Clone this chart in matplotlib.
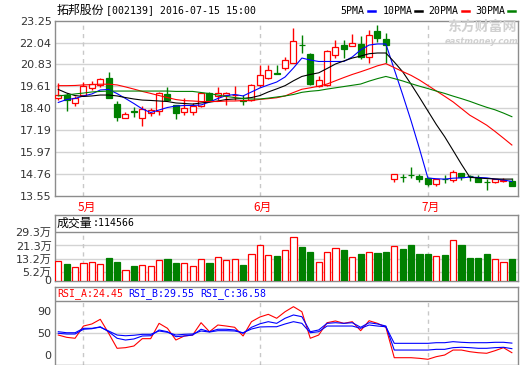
import matplotlib
matplotlib.use('Agg')
import matplotlib.pyplot as plt
from matplotlib.lines import Line2D
from matplotlib.transforms import blended_transform_factory

plt.rcParams['font.family'] = ['DejaVu Sans', 'Noto Sans CJK SC']

# ---- data (2016-04-27 .. 2016-07-15) ----
opens = [18.98, 19.13, 18.71, 19.13, 19.50, 19.69, 20.06, 18.64, 17.84, 18.24,
         17.83, 18.15, 18.22, 19.20, 18.55, 18.20, 18.17, 18.54, 19.23, 19.06,
         19.15, 19.12, 18.85, 18.85, 19.68, 20.06, 20.36, 20.61, 20.90, 21.93,
         21.40, 19.65, 19.70, 21.35, 21.90, 21.86, 21.97, 21.26, 22.70, 22.25,
         14.47, 14.60, 14.70, 14.66, 14.52, 14.20, 14.50, 14.42, 14.80, 14.66,
         14.55, 14.32, 14.33, 14.34, 14.38]
highs = [19.78, 19.23, 19.08, 19.87, 19.92, 20.05, 20.42, 18.82, 18.21, 18.45,
         18.52, 18.40, 19.30, 19.60, 18.58, 18.96, 18.67, 19.30, 19.30, 19.60,
         19.30, 19.63, 19.15, 19.75, 20.80, 20.80, 20.80, 21.25, 22.86, 22.45,
         21.45, 20.20, 21.62, 22.20, 22.20, 22.50, 22.40, 22.76, 23.00, 22.55,
         14.75, 14.75, 15.16, 14.73, 14.55, 14.50, 14.70, 14.97, 14.80, 14.67,
         14.67, 14.48, 14.50, 14.55, 14.55]
lows = [18.87, 18.26, 18.52, 19.08, 19.40, 19.56, 18.95, 17.71, 17.84, 17.93,
        17.41, 17.95, 18.00, 18.78, 17.80, 18.00, 18.00, 18.45, 18.78, 18.85,
        18.58, 18.85, 18.60, 18.82, 19.60, 20.00, 20.27, 20.52, 20.90, 21.44,
        19.70, 19.55, 19.65, 21.20, 21.20, 21.86, 21.15, 20.90, 22.09, 20.88,
        14.33, 14.33, 14.55, 14.30, 14.10, 14.10, 14.24, 14.33, 14.42, 14.37,
        14.33, 13.87, 14.26, 14.30, 14.10]
closes = [19.13, 18.85, 18.95, 19.63, 19.73, 20.00, 18.95, 17.89, 18.08, 18.20,
          18.34, 18.29, 19.23, 18.85, 18.12, 18.40, 18.52, 19.27, 18.82, 19.27,
          19.25, 19.14, 18.80, 19.68, 20.24, 20.52, 20.32, 21.07, 22.12, 21.90,
          19.72, 19.97, 21.55, 21.80, 21.70, 21.99, 21.25, 22.45, 22.27, 21.88,
          14.73, 14.58, 14.67, 14.48, 14.19, 14.48, 14.48, 14.84, 14.60, 14.64,
          14.33, 14.30, 14.45, 14.44, 14.11]

ma5 = [18.72, 18.88, 18.94, 19.08, 19.19, 19.41, 19.44, 19.21, 18.94, 18.66,
       18.36, 18.16, 18.30, 18.44, 18.52, 18.55, 18.55, 18.58, 18.74, 18.94,
       19.10, 19.16, 19.08, 19.30, 19.52, 19.69, 19.85, 20.13, 20.63, 21.18,
       21.07, 20.99, 20.99, 20.99, 20.99, 21.24, 21.63, 21.90, 21.96, 21.96,
       20.55, 19.15, 17.70, 16.15, 14.53, 14.49, 14.47, 14.52, 14.54, 14.58,
       14.56, 14.54, 14.47, 14.42, 14.34]
ma10 = [19.44, 19.24, 19.10, 19.05, 19.08, 19.13, 19.13, 19.08, 18.99, 18.91,
        18.85, 18.83, 18.80, 18.77, 18.69, 18.66, 18.63, 18.69, 18.74, 18.80,
        18.88, 18.91, 18.94, 18.99, 19.10, 19.30, 19.47, 19.65, 19.92, 20.16,
        20.27, 20.36, 20.60, 20.85, 21.02, 21.18, 21.29, 21.42, 21.46, 21.46,
        20.96, 20.42, 19.73, 19.00, 18.25, 17.50, 16.82, 16.06, 15.29, 14.57,
        14.53, 14.50, 14.48, 14.47, 14.47]
ma20 = [19.65, 19.65, 19.66, 19.69, 19.71, 19.73, 19.73, 19.69, 19.58, 19.46,
        19.33, 19.22, 19.10, 18.99, 18.88, 18.82, 18.80, 18.77, 18.77, 18.77,
        18.80, 18.80, 18.82, 18.82, 18.89, 18.93, 18.98, 19.08, 19.27, 19.45,
        19.53, 19.62, 19.74, 19.92, 20.10, 20.27, 20.42, 20.58, 20.75, 20.87,
        20.65, 20.43, 20.22, 19.96, 19.66, 19.36, 19.06, 18.75, 18.38, 18.01,
        17.74, 17.46, 17.11, 16.74, 16.36]
ma30 = [19.08, 19.13, 19.19, 19.24, 19.30, 19.33, 19.35, 19.35, 19.35, 19.35,
        19.35, 19.35, 19.35, 19.35, 19.33, 19.33, 19.33, 19.27, 19.21, 19.13,
        19.05, 18.99, 18.94, 18.91, 18.91, 18.96, 19.02, 19.08, 19.16, 19.28,
        19.34, 19.38, 19.46, 19.53, 19.60, 19.67, 19.74, 19.90, 20.04, 20.16,
        20.04, 19.91, 19.76, 19.62, 19.49, 19.35, 19.22, 19.07, 18.93, 18.78,
        18.61, 18.45, 18.31, 18.13, 17.93]

# volume in 万
volume = [11.9, 10.2, 8.2, 10.8, 11.2, 10.0, 13.9, 11.2, 6.4, 8.8,
          9.4, 8.8, 12.3, 13.1, 10.8, 10.6, 8.8, 13.1, 10.6, 14.3,
          12.5, 13.1, 9.6, 16.3, 21.6, 15.5, 14.9, 18.5, 26.4, 20.5,
          17.3, 11.2, 17.3, 19.6, 18.5, 14.3, 16.1, 17.3, 16.7, 17.3,
          21.0, 19.1, 21.6, 16.1, 16.1, 14.9, 15.5, 24.6, 21.6, 13.7,
          13.7, 16.1, 12.9, 11.2, 13.1]

rsi_a = [46.8, 43.9, 42.7, 58.2, 60.8, 66.7, 49.0, 30.0, 30.8, 32.9,
         42.2, 42.2, 61.6, 55.3, 40.5, 45.6, 46.8, 62.4, 51.0, 59.5,
         58.2, 56.6, 45.6, 63.7, 69.6, 73.0, 68.0, 76.3, 82.7, 76.3,
         42.7, 46.8, 62.4, 64.6, 61.6, 63.7, 52.3, 64.9, 61.6, 56.6,
         18.1, 18.1, 18.1, 17.3, 16.1, 19.4, 21.5, 27.8, 27.8, 25.7,
         24.4, 23.7, 27.0, 30.8, 24.45]
rsi_b = [49.0, 48.1, 48.1, 54.1, 54.8, 57.3, 51.0, 42.7, 40.5, 41.8,
         45.6, 45.9, 53.2, 51.0, 44.7, 45.6, 46.8, 54.1, 51.0, 54.1,
         54.1, 53.2, 49.0, 56.6, 61.0, 63.7, 61.6, 68.0, 72.2, 70.0,
         51.0, 53.2, 61.6, 62.4, 61.6, 62.4, 56.6, 62.4, 60.8, 58.2,
         27.8, 27.8, 27.8, 27.8, 27.8, 28.7, 28.7, 30.8, 31.3, 30.8,
         30.0, 30.0, 30.8, 31.3, 29.55]
rsi_c = [51.0, 49.7, 49.7, 55.3, 55.3, 56.6, 51.9, 46.8, 45.9, 46.5,
         47.7, 47.7, 51.9, 50.3, 46.8, 47.7, 48.1, 51.9, 50.6, 52.3,
         52.3, 51.9, 49.7, 54.4, 57.0, 57.3, 57.3, 60.8, 63.7, 61.6,
         49.7, 51.0, 58.2, 58.2, 58.2, 58.2, 55.3, 59.5, 58.2, 57.3,
         36.3, 36.3, 36.3, 36.3, 36.3, 37.1, 37.1, 38.4, 37.6, 37.1,
         37.1, 37.1, 37.6, 37.6, 36.58]

price_ticks = [23.25, 22.04, 20.83, 19.61, 18.40, 17.19, 15.97, 14.76, 13.55]
vol_ticks = [29.3, 21.3, 13.2, 5.2, 0]
vol_labels = ['29.3万', '21.3万', '13.2万', '5.2万', '0']
month_idx = [3, 24, 44]
month_labels = ['5月', '6月', '7月']

RED = '#FF0000'
GREEN = '#008000'
FRAME = '#8C8C8C'
GRID = '#D3D3D3'

n = len(closes)
x = list(range(n))
up = [c > o for o, c in zip(opens, closes)]
cols = [RED if u else GREEN for u in up]
faces = ['white' if u else GREEN for u in up]

W, H = 520, 365
fig = plt.figure(figsize=(W / 100, H / 100), dpi=100)


def box(top, bottom, left=55, right=518):
    return [left / W, 1 - bottom / H, (right - left) / W, (bottom - top) / H]


def frame(ax):
    for s in ax.spines.values():
        s.set_color(FRAME)
        s.set_linewidth(1)
    ax.set_xticks([])
    ax.tick_params(axis='y', length=0, pad=2.5, labelsize=8, labelcolor='#333333')
    ax.set_xlim(-0.39, 54.73)


# ---- price panel ----
ax = fig.add_axes(box(20.7, 195.7))
frame(ax)
ax.set_ylim(13.55, 23.25)
ax.set_yticks(price_ticks)
ax.set_yticklabels(['%.2f' % t for t in price_ticks])
for t in price_ticks[1:-1]:
    ax.axhline(t, color=GRID, lw=1, zorder=0)
for m in month_idx:
    ax.axvline(m, color='#C8C8C8', lw=1, ls=(0, (3, 3)), zorder=0)

ax.vlines(x, lows, highs, color=cols, lw=1, zorder=2)
bottoms = [min(o, c) for o, c in zip(opens, closes)]
heights = [max(abs(c - o), 0.015) for o, c in zip(opens, closes)]
ax.bar(x, heights, bottom=bottoms, width=0.72, color=faces, edgecolor=cols,
       linewidth=0.9, zorder=3)

ax.plot(x, ma5, color='#0000FF', lw=0.8, zorder=4)
ax.plot(x, ma10, color='black', lw=0.8, zorder=4)
ax.plot(x, ma20, color=RED, lw=0.8, zorder=4)
ax.plot(x, ma30, color=GREEN, lw=0.8, zorder=4)

tr = blended_transform_factory(ax.transData, ax.transAxes)
for m, lab in zip(month_idx, month_labels):
    ax.text(m + 0.35, -0.065, lab, transform=tr, color=RED, fontsize=8.5,
            ha='center', va='center', family='Noto Sans CJK SC')

# watermark
fig.text(482 / W, 1 - 27 / H, '东方财富网', color='#D0D0D0', fontsize=10,
         fontweight='bold', ha='center', va='center', family='Noto Sans CJK SC')
fig.text(482 / W, 1 - 41 / H, 'eastmoney.com', color='#D0D0D0', fontsize=6,
         fontweight='bold', style='italic', ha='center', va='center')

# title and legend
fig.text(57 / W, 1 - 10 / H, '拓邦股份', fontsize=8.6, va='center',
         family='Noto Sans CJK SC')
fig.text(106 / W, 1 - 10 / H, '[002139] 2016-07-15 15:00', fontsize=7.1,
         va='center', family='DejaVu Sans Mono')
legend_items = [('5PMA', 340, 368, '#0000FF'), ('10PMA', 383, 415, 'black'),
                ('20PMA', 428, 462, RED), ('30PMA', 475, 508, GREEN)]
for lab, tx, lx, c in legend_items:
    fig.text(tx / W, 1 - 11 / H, lab, fontsize=7.1, va='center',
             family='DejaVu Sans Mono')
    fig.add_artist(Line2D([lx / W, (lx + 7) / W], [1 - 11 / H, 1 - 11 / H],
                          color=c, lw=1.8, transform=fig.transFigure))

# ---- volume panel ----
av = fig.add_axes(box(215, 280.5))
frame(av)
av.set_ylim(0, 39.8)
av.set_yticks(vol_ticks)
av.set_yticklabels(vol_labels)
for t in vol_ticks[1:-1]:
    av.axhline(t, color=GRID, lw=1, zorder=0)
av.axhline(vol_ticks[0], color=FRAME, lw=1, zorder=1)
av.vlines(month_idx, 0, vol_ticks[0], color='#C8C8C8', lw=1,
          linestyles=(0, (3, 3)), zorder=0)
av.bar(x, volume, width=0.75, color=faces, edgecolor=cols, linewidth=0.9, zorder=3)
fig.text(57 / W, 1 - 223 / H, '成交量', fontsize=8.6, va='center',
         family='Noto Sans CJK SC')
fig.text(93 / W, 1 - 223 / H, ':114566', fontsize=7.1, va='center',
         family='DejaVu Sans Mono')

# ---- RSI panel ----
ar = fig.add_axes(box(287, 364.5))
frame(ar)
ar.set_ylim(9.5, 107.6)
ar.set_yticks([77.6, 50, 21.5])
ar.set_yticklabels(['90', '50', '0'])
ar.axhline(50, color=GRID, lw=1, zorder=0)
ar.axhline(90, color=FRAME, lw=1, zorder=1)
ar.vlines(month_idx, 9.5, 90, color='#C8C8C8', lw=1,
          linestyles=(0, (3, 3)), zorder=0)
ar.plot(x, rsi_a, color=RED, lw=0.8, zorder=3)
ar.plot(x, rsi_b, color='#0000FF', lw=0.8, zorder=3)
ar.plot(x, rsi_c, color='#0000FF', lw=0.8, zorder=3)
for lab, tx, c in [('RSI_A:24.45', 57, RED), ('RSI_B:29.55', 128, '#0000FF'),
                   ('RSI_C:36.58', 200, '#0000FF')]:
    fig.text(tx / W, 1 - 294 / H, lab, fontsize=7.1, color=c, va='center',
             family='DejaVu Sans Mono')

fig.savefig('out.png', dpi=100)
